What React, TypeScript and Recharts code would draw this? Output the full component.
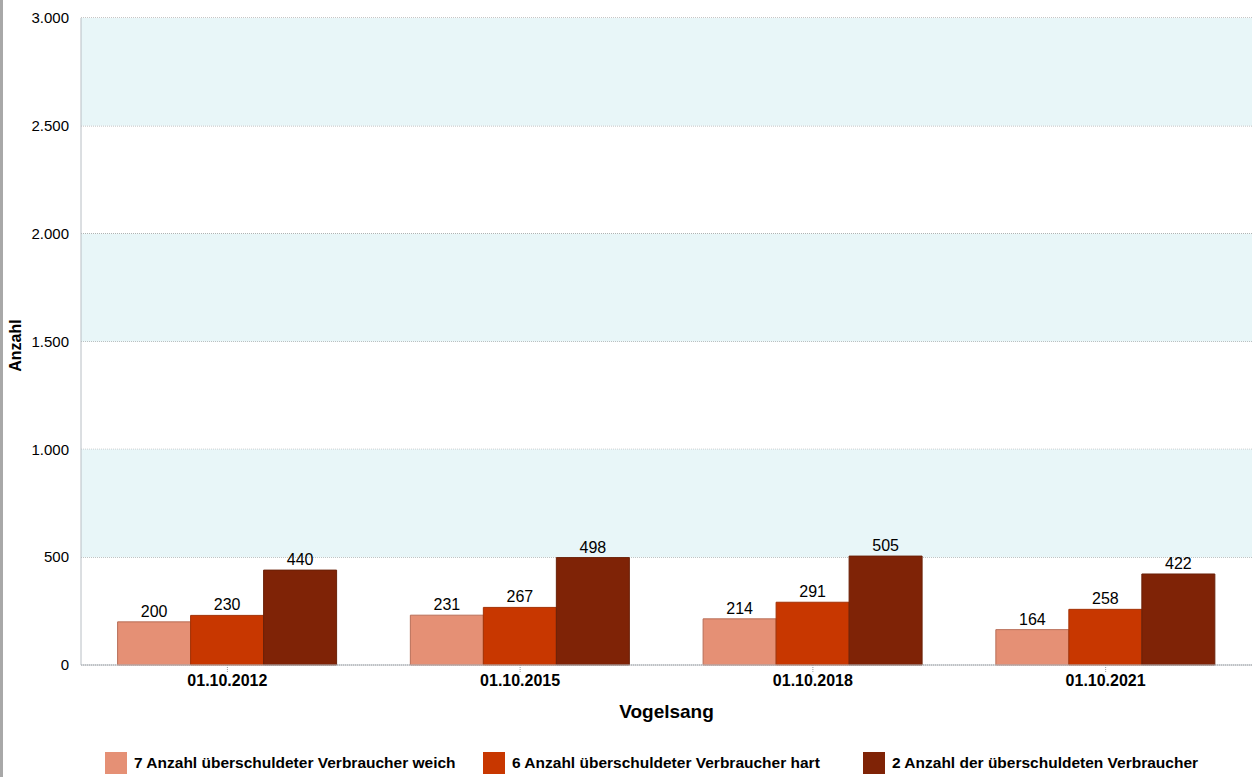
import React from 'react';
import {BarChart, Bar, XAxis, YAxis, CartesianGrid, ReferenceArea, LabelList, Label} from 'recharts';

const dates = ['01.10.2012', '01.10.2015', '01.10.2018', '01.10.2021'];
const weich = [200, 231, 214, 164];
const hart = [230, 267, 291, 258];
const gesamt = [440, 498, 505, 422];
const yTicks = [0, 500, 1000, 1500, 2000, 2500, 3000];

const series = [
    {key: 'weich', name: '7 Anzahl überschuldeter Verbraucher weich', fill: '#E59075', stroke: '#B86E58'},
    {key: 'hart', name: '6 Anzahl überschuldeter Verbraucher hart', fill: '#C83700', stroke: '#A33206'},
    {key: 'gesamt', name: '2 Anzahl der überschuldeten Verbraucher', fill: '#7F2306', stroke: '#6A2008'},
];

const data = dates.map((d, i) => ({date: d, weich: weich[i], hart: hart[i], gesamt: gesamt[i]}));

const FONT = '"Liberation Sans", Arial, sans-serif';

const fmt = (v: number) => v.toLocaleString('de-DE');

export default function App() {
    return (
        <div style={{position: 'absolute', left: 0, top: 0, width: 1252, height: 777, background: '#fff', fontFamily: FONT}}>
            <div style={{position: 'absolute', left: 0, top: 0, width: 3, height: 777, background: '#A8A8A8'}} />
            <BarChart
                width={1252}
                height={777}
                data={data}
                margin={{top: 18, right: 0, left: 0, bottom: 0}}
                barCategoryGap="12.5%"
                barGap={0}
            >
                <ReferenceArea y1={500} y2={1000} fill="#E8F6F8" fillOpacity={1} strokeOpacity={0} />
                <ReferenceArea y1={1500} y2={2000} fill="#E8F6F8" fillOpacity={1} strokeOpacity={0} />
                <ReferenceArea y1={2500} y2={3000} fill="#E8F6F8" fillOpacity={1} strokeOpacity={0} />
                <CartesianGrid vertical={false} stroke="#8C8C8C" strokeDasharray="1 1" />
                <XAxis
                    dataKey="date"
                    height={112}
                    axisLine={{stroke: '#B8BEC4'}}
                    tickLine={{stroke: '#9A9A9A', strokeDasharray: '1 1'}}
                    tickSize={7}
                    tick={{fill: '#000', fontSize: 16, fontWeight: 'bold', fontFamily: FONT}}
                    tickMargin={3}
                >
                    <Label value="Vogelsang" position="insideTop" offset={40} style={{fill: '#000', fontSize: 19, fontWeight: 'bold', fontFamily: FONT}} />
                </XAxis>
                <YAxis
                    width={81}
                    domain={[0, 3000]}
                    ticks={yTicks}
                    interval={0}
                    tickFormatter={fmt}
                    axisLine={{stroke: '#B8BEC4'}}
                    tickLine={false}
                    tickMargin={6}
                    tick={{fill: '#000', fontSize: 15, fontFamily: FONT}}
                >
                    <Label value="Anzahl" angle={-90} position="insideLeft" offset={15} dy={4} style={{fill: '#000', fontSize: 16, fontWeight: 'bold', fontFamily: FONT, textAnchor: 'middle'}} />
                </YAxis>
                {series.map((s) => (
                    <Bar key={s.key} dataKey={s.key} name={s.name} fill={s.fill} stroke={s.stroke} strokeWidth={1} isAnimationActive={false}>
                        <LabelList dataKey={s.key} position="top" offset={5} style={{fill: '#000', fontSize: 16, fontFamily: FONT}} formatter={(v: any) => fmt(Number(v))} />
                    </Bar>
                ))}
            </BarChart>
            {series.map((s, i) => (
                <div key={s.key} style={{position: 'absolute', top: 752, left: [105, 483, 863][i], display: 'flex', alignItems: 'center', whiteSpace: 'nowrap'}}>
                    <div style={{width: 22, height: 22, background: s.fill, marginRight: 7}} />
                    <span style={{fontSize: 15.5, fontWeight: 'bold', color: '#000'}}>{s.name}</span>
                </div>
            ))}
        </div>
    );
}
